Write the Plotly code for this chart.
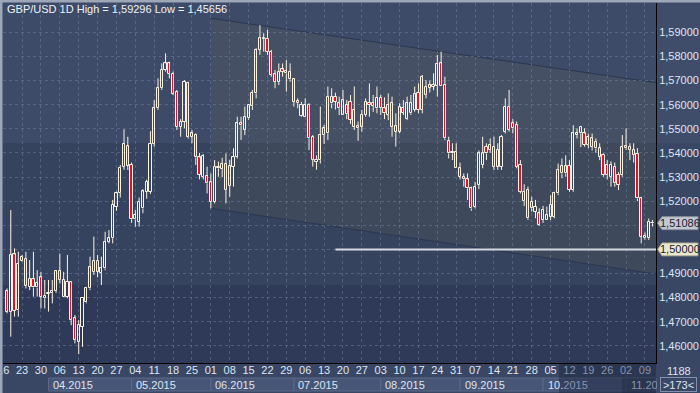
import plotly.graph_objects as go
import pandas as pd

# ---------------- data ----------------
START_DATE = "2015-03-17"
opens = [1.4827,1.4742,1.4979,1.4748,1.4970,1.4960,1.4845,1.4876,1.4842,1.4884,
         1.4797,1.4815,1.4820,1.4827,1.4910,1.4873,1.4804,1.4866,1.4717,1.4617,
         1.4679,1.4780,1.4838,1.4907,1.4953,1.4903,1.4921,1.5032,1.5046,1.5177,
         1.5235,1.5343,1.5430,1.5350,1.5124,1.5115,1.5170,1.5239,1.5239,1.5437,
         1.5585,1.5668,1.5744,1.5771,1.5727,1.5654,1.5509,1.5530,1.5690,1.5481,
         1.5474,1.5381,1.5301,1.5304,1.5278,1.5198,1.5336,1.5335,1.5354,1.5263,
         1.5343,1.5384,1.5523,1.5495,1.5543,1.5594,1.5647,1.5827,1.5872,1.5872,
         1.5820,1.5727,1.5695,1.5746,1.5730,1.5737,1.5705,1.5615,1.5555,1.5550,
         1.5599,1.5467,1.5363,1.5370,1.5474,1.5481,1.5605,1.5633,1.5606,1.5557,
         1.5600,1.5612,1.5509,1.5512,1.5509,1.5557,1.5606,1.5606,1.5585,1.5629,
         1.5585,1.5557,1.5606,1.5511,1.5488,1.5585,1.5540,1.5564,1.5578,1.5650,
         1.5578,1.5640,1.5681,1.5675,1.5677,1.5771,1.5681,1.5449,1.5398,1.5405,
         1.5336,1.5301,1.5290,1.5253,1.5177,1.5267,1.5350,1.5426,1.5412,1.5426,
         1.5412,1.5343,1.5488,1.5592,1.5523,1.5516,1.5350,1.5200,1.5246,1.5198,
         1.5156,1.5149,1.5122,1.5122,1.5135,1.5135,1.5232,1.5315,1.5345,1.5345,
         1.5246,1.5474,1.5481,1.5481,1.5433,1.5460,1.5446,1.5419,1.5391,1.5350,
         1.5301,1.5343,1.5308,1.5308,1.5430,1.5426,1.5412,1.5395,1.5211,1.5046,
         1.5046,1.5108]
highs = [1.4838,1.5163,1.5004,1.4990,1.4977,1.4990,1.4956,1.4990,1.4914,1.4907,
         1.4873,1.4873,1.4873,1.4914,1.4983,1.4907,1.4977,1.4866,1.4728,1.4707,
         1.4800,1.4845,1.4970,1.5053,1.4977,1.4970,1.5073,1.5080,1.5205,1.5240,
         1.5350,1.5498,1.5467,1.5360,1.5163,1.5215,1.5250,1.5289,1.5490,1.5619,
         1.5709,1.5771,1.5813,1.5778,1.5737,1.5661,1.5540,1.5702,1.5695,1.5495,
         1.5481,1.5400,1.5395,1.5343,1.5315,1.5370,1.5364,1.5380,1.5398,1.5371,
         1.5419,1.5550,1.5550,1.5592,1.5599,1.5661,1.5834,1.59296,1.5896,1.5910,
         1.5827,1.5744,1.5771,1.5771,1.5785,1.5771,1.5709,1.5626,1.5612,1.5626,
         1.5606,1.5474,1.5390,1.5592,1.5516,1.5675,1.5668,1.5650,1.5633,1.5661,
         1.5620,1.5640,1.5675,1.5530,1.5578,1.5626,1.5688,1.5640,1.5675,1.5640,
         1.5630,1.5647,1.5633,1.5564,1.5606,1.5619,1.5633,1.5640,1.5675,1.5688,
         1.5723,1.5702,1.5700,1.5730,1.5806,1.5820,1.5716,1.5467,1.5440,1.5440,
         1.5360,1.5315,1.5315,1.5260,1.5280,1.5410,1.5467,1.5440,1.5460,1.5467,
         1.5440,1.5474,1.5626,1.5661,1.5540,1.5530,1.5370,1.5270,1.5260,1.5218,
         1.5205,1.5170,1.5180,1.5177,1.5225,1.5239,1.5356,1.5377,1.5390,1.5370,
         1.5515,1.5502,1.5512,1.5502,1.5480,1.5480,1.5460,1.5440,1.5398,1.5370,
         1.5365,1.5360,1.5320,1.5474,1.5502,1.5440,1.5440,1.5420,1.5218,1.5070,
         1.5128,1.5122]
lows = [1.4735,1.4638,1.4721,1.4721,1.4949,1.4838,1.4831,1.4804,1.4804,1.4755,
        1.4755,1.4742,1.4776,1.4820,1.4859,1.4804,1.4797,1.4686,1.4610,1.45656,
        1.4596,1.4776,1.4831,1.4894,1.4884,1.4852,1.4914,1.5025,1.5025,1.5160,
        1.5215,1.5330,1.5329,1.5110,1.5094,1.5094,1.5150,1.5210,1.5230,1.5426,
        1.5578,1.5661,1.5737,1.5709,1.5640,1.5495,1.5467,1.5502,1.5460,1.5440,
        1.5350,1.5290,1.5290,1.5232,1.5170,1.5191,1.5301,1.5300,1.5191,1.5218,
        1.5260,1.5377,1.5454,1.5474,1.5537,1.5578,1.5626,1.5806,1.5820,1.5806,
        1.5716,1.5668,1.5681,1.5716,1.5654,1.5695,1.5592,1.5585,1.5550,1.5550,
        1.5412,1.5343,1.5330,1.5356,1.5437,1.5454,1.5585,1.5580,1.5557,1.5557,
        1.5540,1.5520,1.5495,1.5450,1.5488,1.5550,1.5550,1.5570,1.5564,1.5557,
        1.5540,1.5536,1.5467,1.5426,1.5481,1.5557,1.5536,1.5557,1.5571,1.5564,
        1.5564,1.5626,1.5650,1.5660,1.5633,1.5677,1.5453,1.5377,1.5370,1.5336,
        1.5290,1.5260,1.5205,1.5160,1.5170,1.5250,1.5336,1.5370,1.5400,1.5329,
        1.5330,1.5329,1.5481,1.5488,1.5481,1.5336,1.5232,1.5180,1.5122,1.5157,
        1.5129,1.5097,1.5110,1.5122,1.5122,1.5129,1.5225,1.5295,1.5301,1.5239,
        1.5239,1.5460,1.5424,1.5426,1.5420,1.5410,1.5400,1.5370,1.5301,1.5290,
        1.5260,1.5260,1.5246,1.5301,1.5412,1.5370,1.5360,1.5200,1.5025,1.5040,
        1.5039,1.5095]
closes = [1.4742,1.4977,1.4746,1.4939,1.4952,1.4849,1.4877,1.4842,1.4859,1.4804,
          1.4807,1.4818,1.4829,1.4910,1.4873,1.4804,1.4866,1.4707,1.4624,1.4686,
          1.4800,1.4841,1.4925,1.4953,1.4907,1.4921,1.5032,1.5046,1.5184,1.5232,
          1.5339,1.5437,1.5347,1.5125,1.5142,1.5198,1.5240,1.5281,1.5437,1.5585,
          1.5668,1.5744,1.5771,1.5727,1.5644,1.5509,1.5530,1.5695,1.5467,1.5467,
          1.5381,1.5310,1.5387,1.5274,1.5198,1.5343,1.5343,1.5354,1.5246,1.5346,
          1.5384,1.5523,1.5514,1.5550,1.5599,1.5650,1.5827,1.5875,1.5875,1.5820,
          1.5723,1.5695,1.5737,1.5737,1.5740,1.5705,1.5612,1.5606,1.5599,1.5599,
          1.5460,1.5371,1.5371,1.5474,1.5502,1.5633,1.5633,1.5612,1.5585,1.5619,
          1.5560,1.5536,1.5578,1.5502,1.5557,1.5612,1.5599,1.5596,1.5629,1.5585,
          1.5564,1.5599,1.5509,1.5488,1.5592,1.5567,1.5606,1.5606,1.5644,1.5578,
          1.5716,1.5675,1.5671,1.5681,1.5769,1.5677,1.5460,1.5398,1.5405,1.5336,
          1.5301,1.5290,1.5253,1.5170,1.5260,1.5398,1.5398,1.5398,1.5433,1.5343,
          1.5343,1.5467,1.5592,1.5495,1.5502,1.5343,1.5239,1.5239,1.5129,1.5170,
          1.5177,1.5101,1.5163,1.5142,1.5184,1.5232,1.5329,1.5345,1.5315,1.5246,
          1.5481,1.5481,1.5509,1.5433,1.5467,1.5426,1.5419,1.5384,1.5308,1.5308,
          1.5350,1.5274,1.5267,1.5426,1.5419,1.5412,1.5391,1.5211,1.5053,1.5056,
          1.5115,1.5109]

price_levels = [1.46, 1.47, 1.48, 1.49, 1.50, 1.51, 1.52, 1.53, 1.54, 1.55, 1.56, 1.57, 1.58, 1.59]
last_price = 1.51086
support_level = 1.50000
support_start_idx = 87
channel_start_idx = 54
channel_upper = [1.5958, 1.5691]   # at channel start / right edge
channel_lower = [1.5170, 1.4898]
dim_from_idx = 147                 # axis labels under the darker scroll strip
title_text = "GBP/USD 1D High = 1,59296 Low = 1,45656"
corner_top = "1188"
corner_bottom = ">173<"

dates = pd.bdate_range(START_DATE, periods=len(closes))
idx = list(range(len(closes)))

# ---------------- geometry ----------------
X_MIN, X_MAX = -1.06, 171.92
Y_MIN, Y_MAX = 1.45289, 1.60215
L, R, T, B = 3, 656, 3, 363
W, H = 700, 393


def xpaper(i):
    return (i - X_MIN) / (X_MAX - X_MIN)


def ypaper(p):
    return (p - Y_MIN) / (Y_MAX - Y_MIN)


def pxx(px):
    return (px - L) / (R - L)


def pxy(py):
    return (B - py) / (B - T)


def fmt(p):
    return f"{p:.5f}".replace(".", ",")


WICK = "#fbf3df"
RED = "#e2102c"
TXT = "#dde5f2"
DIM = "#8894ae"
PAPER = "#394765"
FONT = "Liberation Sans Narrow, Arial Narrow, Liberation Sans, sans-serif"

fig = go.Figure()

# wicks
wx, wy = [], []
for i, o, h, l, c in zip(idx, opens, highs, lows, closes):
    top, bot = max(o, c), min(o, c)
    wx += [i, i, None, i, i, None]
    wy += [h, top, None, bot, l, None]
fig.add_trace(go.Scatter(x=wx, y=wy, mode="lines", line=dict(color=WICK, width=1),
                         hoverinfo="skip", showlegend=False))

# bodies
for up in (True, False):
    sel = [k for k in idx if (closes[k] >= opens[k]) == up]
    fig.add_trace(go.Bar(
        x=sel,
        base=[min(opens[k], closes[k]) for k in sel],
        y=[max(abs(closes[k] - opens[k]), 0.00012) for k in sel],
        width=0.58,
        marker=dict(color="rgba(0,0,0,0)" if up else RED, line=dict(color=WICK, width=1)),
        hoverinfo="skip", showlegend=False))

shapes = []
# background bands inside plot area
for y0, y1, col in [(3, 143, "#3e4b68"), (143, 285, "#36435f"), (285, 363, "#2e3a57")]:
    shapes.append(dict(type="rect", xref="paper", yref="paper", x0=0, x1=1,
                       y0=pxy(y1), y1=pxy(y0), fillcolor=col, line_width=0, layer="below"))
# right axis column upper part
shapes.append(dict(type="rect", xref="paper", yref="paper", x0=1, x1=pxx(700),
                   y0=pxy(143), y1=pxy(0), fillcolor="#3f4d6b", line_width=0, layer="below"))
# channel
x_end = X_MAX
path = (f"M {channel_start_idx},{channel_upper[0]} L {x_end},{channel_upper[1]} "
        f"L {x_end},{channel_lower[1]} L {channel_start_idx},{channel_lower[0]} Z")
shapes.append(dict(type="path", xref="x", yref="y", path=path,
                   fillcolor="rgba(108,104,82,0.18)", line_width=0, layer="below"))
for a, b in (channel_upper, channel_lower):
    shapes.append(dict(type="line", xref="x", yref="y", x0=channel_start_idx, x1=x_end,
                       y0=a, y1=b, line=dict(color="#2b3650", width=1), layer="below"))
# support line
shapes.append(dict(type="line", xref="x", yref="y", x0=support_start_idx, x1=x_end,
                   y0=support_level, y1=support_level, line=dict(color="#d5d9e0", width=2)))

# window border
shapes.append(dict(type="rect", xref="paper", yref="paper", x0=pxx(0), x1=pxx(2.5),
                   y0=pxy(393), y1=pxy(0), fillcolor="#9ea7b8", line_width=0))
shapes.append(dict(type="rect", xref="paper", yref="paper", x0=pxx(0), x1=pxx(700),
                   y0=pxy(2.5), y1=pxy(0), fillcolor="#9ea7b8", line_width=0))

annotations = []
# month row
month_starts = [k for k in range(1, len(dates)) if dates[k].month != dates[k - 1].month]
for n, k in enumerate(month_starts):
    left = xpaper(k)
    right = xpaper(month_starts[n + 1]) if n + 1 < len(month_starts) else 1.0
    shapes.append(dict(type="rect", xref="paper", yref="paper", x0=left, x1=right,
                       y0=pxy(391), y1=pxy(378), fillcolor="#475677",
                       line=dict(color="#5c6a89", width=1), layer="below"))
    label = dates[k].strftime("%m.%Y")
    if k >= dim_from_idx:
        label = f'<span style="color:{DIM}">{label}</span>'
    elif k >= dim_from_idx - 5:
        label = f'{label[:3]}<span style="color:{DIM}">{label[3:]}</span>'
    annotations.append(dict(xref="paper", yref="paper", x=xpaper(k) + 2.5 / (R - L), y=pxy(384.5),
                            text=label, showarrow=False, xanchor="left",
                            yanchor="middle", font=dict(family=FONT, size=11, color=TXT)))
# darker strip at bottom right
shapes.append(dict(type="rect", xref="paper", yref="paper", x0=pxx(559), x1=1,
                   y0=pxy(393), y1=pxy(364), fillcolor="rgba(22,30,52,0.40)", line_width=0,
                   layer="below"))
shapes.append(dict(type="rect", xref="paper", yref="paper", x0=pxx(622), x1=1,
                   y0=pxy(393), y1=pxy(378), fillcolor="rgba(22,30,52,0.30)", line_width=0,
                   layer="below"))

# price tags
for price, bg, border in [(last_price, "#c3c7cf", "#8a909c"), (support_level, "#e9e7cf", "#9c9a84")]:
    yc = ypaper(price)
    hh = 6.5 / (B - T)
    tip = pxx(657.5)
    xl = pxx(662)
    xr = pxx(698)
    shapes.append(dict(type="path", xref="paper", yref="paper",
                       path=f"M {tip},{yc} L {xl},{yc + hh} L {xr},{yc + hh} L {xr},{yc - hh} L {xl},{yc - hh} Z",
                       fillcolor=bg, line=dict(color=border, width=1)))
    annotations.append(dict(xref="paper", yref="paper", x=pxx(680), y=yc, text=fmt(price),
                            showarrow=False, xanchor="center", yanchor="middle",
                            font=dict(family=FONT, size=11, color="#1b2230")))

# corner panel (covers the clipped tail of the last month label, like the reference)
annotations.append(dict(xref="paper", yref="paper", x=pxx(657), y=pxy(364), text="",
                        showarrow=False, xanchor="left", yanchor="top", width=43, height=29,
                        bgcolor=PAPER, borderpad=0, borderwidth=0))
annotations.append(dict(xref="paper", yref="paper", x=pxx(679), y=pxy(371), text=corner_top,
                        showarrow=False, xanchor="center", yanchor="middle",
                        font=dict(family=FONT, size=11, color=TXT)))
annotations.append(dict(xref="paper", yref="paper", x=pxx(678.5), y=pxy(384.5), text=corner_bottom,
                        showarrow=False, xanchor="center", yanchor="middle", width=33, height=11,
                        bordercolor="#8290ab", borderwidth=1, borderpad=1,
                        font=dict(family=FONT, size=11, color=TXT)))
# title
annotations.append(dict(xref="paper", yref="paper", x=pxx(5), y=pxy(9), text=title_text,
                        showarrow=False, xanchor="left", yanchor="middle",
                        font=dict(family=FONT, size=11, color="#eef2f8")))

# ticks (labels hidden where the price tags sit; dimmed under the dark strip)
tick_vals = [-1] + [k for k, d in enumerate(dates) if d.weekday() == 0]
tick_text = ["16"]
for k in tick_vals[1:]:
    t = dates[k].strftime("%d")
    tick_text.append(f'<span style="color:{DIM}">{t}</span>' if k >= dim_from_idx else t)
hidden = {round(last_price, 2), support_level}
y_text = ["" if round(p, 2) in hidden else fmt(p) for p in price_levels]

fig.update_layout(
    width=W, height=H, margin=dict(l=L, r=W - R, t=T, b=H - B, autoexpand=False),
    paper_bgcolor=PAPER, plot_bgcolor="#2e3a57",
    barmode="overlay", bargap=0, showlegend=False,
    shapes=shapes, annotations=annotations,
    xaxis=dict(range=[X_MIN, X_MAX], tickvals=tick_vals, ticktext=tick_text, automargin=False,
               showgrid=True, gridcolor="rgba(120,136,168,0.45)", griddash="3px,3px",
               gridwidth=1, zeroline=False, showline=True, linecolor="#000000", linewidth=1,
               ticks="", ticklabelstandoff=-3, ticklabeloverflow="allow",
               tickfont=dict(family=FONT, size=11, color=TXT), fixedrange=True),
    yaxis=dict(range=[Y_MIN, Y_MAX], side="right", tickvals=price_levels, automargin=False,
               ticktext=y_text,
               showgrid=True, gridcolor="rgba(120,136,168,0.45)", griddash="3px,3px",
               gridwidth=1, zeroline=False, showline=True, linecolor="#000000", linewidth=1,
               ticks="", tickfont=dict(family=FONT, size=11, color=TXT), fixedrange=True),
)

fig.write_html("out.html")
